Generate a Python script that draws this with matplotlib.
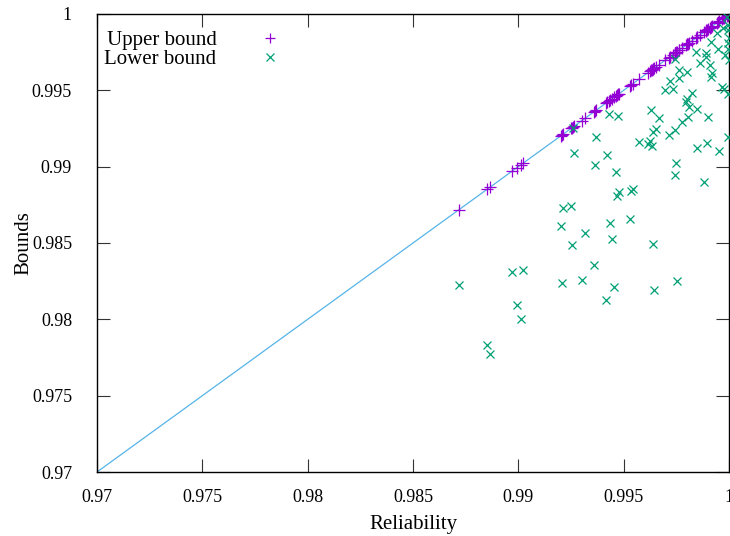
import matplotlib
matplotlib.use("Agg")
import matplotlib.pyplot as plt
from matplotlib.ticker import FormatStrFormatter, MultipleLocator

plt.rcParams["font.family"] = ["Liberation Serif", "DejaVu Serif"]

# Reliability of each system and its lower bound estimate
reliability = [
    0.98718, 0.98851, 0.98865, 0.98970, 0.99022, 0.98994, 0.99013, 0.99212,
    0.99250, 0.99203, 0.99316, 0.99254, 0.99435, 0.99445, 0.99468, 0.99478,
    0.99535, 0.99544, 0.99530, 0.99639, 0.99359, 0.99302, 0.99207, 0.99454,
    0.99416, 0.99644, 0.99753, 0.99259, 0.99369, 0.99264, 0.99421, 0.99366,
    0.99464, 0.99432, 0.99473, 0.99573, 0.99616, 0.99634, 0.99625, 0.99641,
    0.99653, 0.99715, 0.99744, 0.99748, 0.99742, 0.99848, 0.99896, 0.99952,
    0.99995, 0.99881, 0.99630, 0.99668, 0.99777, 0.99805, 0.99900, 0.99850,
    0.99810, 0.99801, 0.99796, 0.99824, 0.99696, 0.99734, 0.99720, 0.99763,
    0.99803, 0.99765, 0.99746, 0.99843, 0.99891, 0.99893, 0.99862, 0.99910,
    0.99919, 0.99915, 0.99917, 0.99950, 0.99943, 0.99967, 0.99976, 0.99995,
    0.99990, 0.99996, 0.99997, 0.99998, 0.99994, 0.99981, 0.99971, 0.99997,
    0.99999,
]

lower_bound = [
    0.98225, 0.97832, 0.97773, 0.98310, 0.98323, 0.98094, 0.98002, 0.98729,
    0.98742, 0.98611, 0.98566, 0.98487, 0.98631, 0.98526, 0.98808, 0.98834,
    0.98841, 0.98854, 0.98657, 0.98493, 0.98356, 0.98258, 0.98238, 0.98212,
    0.98127, 0.98192, 0.98251, 0.99253, 0.99194, 0.99090, 0.99076, 0.99011,
    0.98965, 0.99345, 0.99332, 0.99162, 0.99149, 0.99135, 0.99168, 0.99227,
    0.99247, 0.99207, 0.99240, 0.99024, 0.98945, 0.99122, 0.99155, 0.99103,
    0.99194, 0.98900, 0.99371, 0.99319, 0.99293, 0.99325, 0.99325, 0.99378,
    0.99391, 0.99443, 0.99424, 0.99483, 0.99502, 0.99509, 0.99561, 0.99581,
    0.99620, 0.99633, 0.99705, 0.99751, 0.99745, 0.99718, 0.99679, 0.99666,
    0.99614, 0.99587, 0.99817, 0.99771, 0.99876, 0.99522, 0.99509, 0.99476,
    0.99980, 0.99928, 0.99895, 0.99843, 0.99810, 0.99731, 0.99908, 0.99770,
    0.99700,
]

# The upper bound is tight: it coincides with the reliability itself
upper_bound = list(reliability)

axis_range = [0.97, 1.0]

fig = plt.figure(figsize=(7.30, 5.36), dpi=100)
ax = fig.add_axes([0.1329, 0.1194, 0.8657, 0.8545])

ax.plot(axis_range, axis_range, color="#56b4e9", lw=0.9, zorder=1)
ax.plot(reliability, upper_bound, linestyle="none", marker="+",
        markersize=9, markeredgewidth=0.9, color="#9400d3",
        label="Upper bound", zorder=2)
ax.plot(reliability, lower_bound, linestyle="none", marker="x",
        markersize=6, markeredgewidth=0.9, color="#009e73",
        label="Lower bound", zorder=3)

ax.set_xlim(axis_range)
ax.set_ylim(axis_range)
ax.xaxis.set_major_locator(MultipleLocator(0.005))
ax.yaxis.set_major_locator(MultipleLocator(0.005))
fmt = FormatStrFormatter("%g")
ax.xaxis.set_major_formatter(fmt)
ax.yaxis.set_major_formatter(fmt)

ax.tick_params(direction="in", length=9.5, width=0.8, color="#333333",
               top=True, right=True, labelsize=13)
ax.tick_params(axis="x", pad=12.5)
ax.tick_params(axis="y", pad=18)
for sp in ax.spines.values():
    sp.set_linewidth(1.0)
    sp.set_color("black")

ax.set_xlabel("Reliability", fontsize=15, labelpad=6)
ax.set_ylabel("Bounds", fontsize=15, labelpad=-1)

ax.legend(loc="upper left", bbox_to_anchor=(-0.013, 0.998), frameon=False,
          markerfirst=False, fontsize=15, handlelength=1.0,
          handletextpad=2.05, labelspacing=-0.02, borderaxespad=0.45,
          borderpad=0.3, markerscale=0.85)

fig.savefig("out.png", dpi=100)
